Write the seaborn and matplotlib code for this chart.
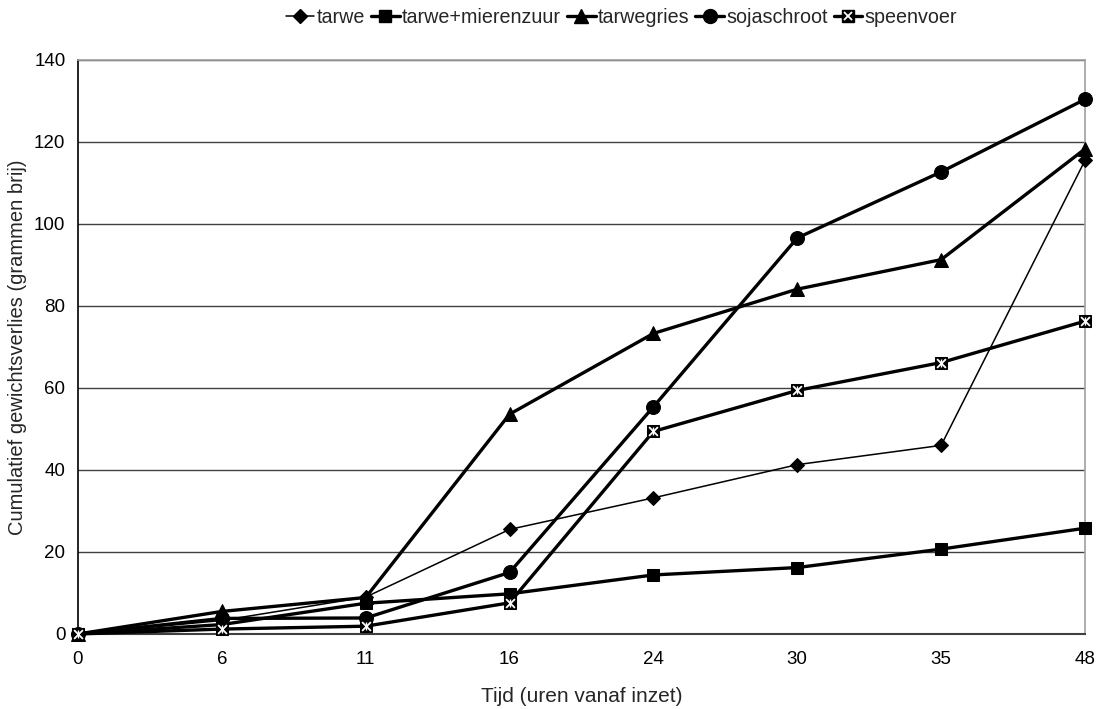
import matplotlib
matplotlib.use("Agg")
import matplotlib.pyplot as plt
from matplotlib.lines import Line2D
import seaborn as sns
import pandas as pd

# Cumulative weight loss of slurry per feed type
hours = ["0", "6", "11", "16", "24", "30", "35", "48"]
tarwe = [0, 3.3, 9.0, 25.5, 33.2, 41.3, 46.0, 115.5]
tarwe_mierenzuur = [0, 2.3, 7.5, 9.8, 14.4, 16.2, 20.7, 25.8]
tarwegries = [0, 5.5, 8.9, 53.6, 73.3, 84.1, 91.3, 118.3]
sojaschroot = [0, 3.8, 3.9, 15.0, 55.4, 96.6, 112.7, 130.4]
speenvoer = [0, 1.2, 1.9, 7.6, 49.4, 59.4, 66.2, 76.3]

series = [
    ("tarwe", tarwe, "D", 1.1, 7),
    ("tarwe+mierenzuur", tarwe_mierenzuur, "s", 2.4, 9),
    ("tarwegries", tarwegries, "^", 2.4, 10),
    ("sojaschroot", sojaschroot, "o", 2.4, 10),
    ("speenvoer", speenvoer, "s", 2.4, 9),
]

sns.set_style("white")
plt.rcParams["font.family"] = ["Liberation Sans", "DejaVu Sans"]

fig = plt.figure(figsize=(11.06, 7.09), dpi=100)
ax = fig.add_axes([0.0705, 0.1058, 0.9105, 0.8096])

handles = []
for name, vals, marker, lw, ms in series:
    df = pd.DataFrame({"uur": hours, "waarde": vals})
    sns.lineplot(data=df, x="uur", y="waarde", ax=ax, color="black", lw=lw,
                 marker=marker, markersize=ms, markeredgecolor="black",
                 markerfacecolor="black", sort=False, clip_on=False, zorder=3)
    h = Line2D([], [], color="black", lw=lw, marker=marker, markersize=ms,
               markerfacecolor="black", markeredgecolor="black")
    if name == "speenvoer":
        sns.scatterplot(data=df, x="uur", y="waarde", ax=ax, marker="x",
                        s=40, color="white", linewidth=1.3, clip_on=False,
                        zorder=4, legend=False)
        sns.scatterplot(data=df, x="uur", y="waarde", ax=ax, marker="|",
                        s=40, color="white", linewidth=1.0, clip_on=False,
                        zorder=4, legend=False)
        h = (h, Line2D([], [], ls="none", marker="x", markersize=6,
                       markeredgecolor="white", markeredgewidth=1.3))
    handles.append(h)

ax.set_xlim(0, len(hours) - 1)
ax.set_ylim(0, 140)
ax.set_yticks(range(0, 141, 20))
ax.yaxis.grid(True, color="#404040", lw=1.0)
ax.xaxis.grid(False)
ax.set_axisbelow(True)

for side in ["top", "right"]:
    ax.spines[side].set_color("#a0a0a0")
    ax.spines[side].set_linewidth(1.2)
ax.spines["left"].set_color("black")
ax.spines["left"].set_linewidth(1.2)
ax.spines["bottom"].set_color("#404040")
ax.spines["bottom"].set_linewidth(1.5)

ax.tick_params(axis="both", which="both", direction="out", length=5,
               width=1.0, colors="black", labelsize=13.5, pad=4)
ax.tick_params(axis="x", pad=7, color="#404040")

ax.set_xlabel("Tijd (uren vanaf inzet)", fontsize=15, labelpad=14)
ax.set_ylabel("Cumulatief gewichtsverlies (grammen brij)", fontsize=14.5,
              labelpad=5)

labels = [s[0] for s in series]
fig.legend(handles, labels, loc="upper center",
           bbox_to_anchor=(0.562, 1.005), ncol=5, frameon=False,
           fontsize=14.2, handlelength=1.45, handletextpad=0.12,
           columnspacing=0.3, borderaxespad=0.2)

fig.savefig("out.png", dpi=100)
